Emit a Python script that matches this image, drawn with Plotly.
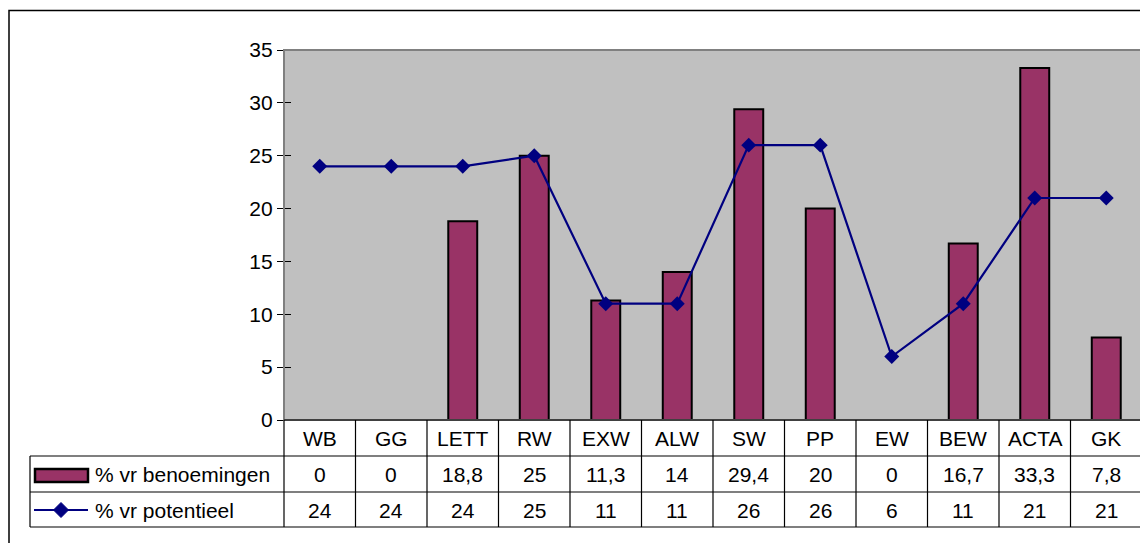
import plotly.graph_objects as go

categories = ["WB", "GG", "LETT", "RW", "EXW", "ALW", "SW", "PP", "EW", "BEW", "ACTA", "GK"]
benoemingen = [0, 0, 18.8, 25, 11.3, 14, 29.4, 20, 0, 16.7, 33.3, 7.8]
potentieel = [24, 24, 24, 25, 11, 11, 26, 26, 6, 11, 21, 21]
series_names = ["% vr benoemingen", "% vr potentieel"]
y_ticks = [0, 5, 10, 15, 20, 25, 30, 35]

BAR_COLOR = "#993366"
LINE_COLOR = "#000080"
FONT = "Liberation Sans, Arial, sans-serif"
FS = 21

OFF = 8  # page body margin
W, H = 1148 - OFF, 543 - OFF
PL, PR, PT, PB = 284, 1142, 50, 420  # plot area in page pixels


def px_x(x):
    return (x - PL) / (PR - PL)


def px_y(y):
    return (PB - y) / (PB - PT)


def fmt(v):
    return f"{v:g}".replace(".", ",")


fig = go.Figure()
fig.add_trace(go.Bar(
    x=categories, y=benoemingen, name=series_names[0],
    marker=dict(color=BAR_COLOR, line=dict(color="black", width=2)),
))
fig.add_trace(go.Scatter(
    x=categories, y=potentieel, name=series_names[1], mode="lines+markers",
    line=dict(color=LINE_COLOR, width=2.2),
    marker=dict(symbol="diamond", size=11.5, color=LINE_COLOR),
))
# invisible copy on y2 so the overlay axis (inner half of cross ticks) is drawn
fig.add_trace(go.Scatter(
    x=categories, y=potentieel, yaxis="y2", mode="lines", opacity=0,
    hoverinfo="skip", showlegend=False,
))

shapes = []
annotations = []
n = len(categories)
row_lines = [420, 456, 492, 527]
row_centers = [438, 474, 510]

# outer chart border
shapes.append(dict(type="rect", xref="paper", yref="paper",
                   x0=px_x(9), x1=px_x(1160), y0=px_y(10.5), y1=px_y(560),
                   line=dict(color="black", width=1.5)))
# plot area border (grey)
shapes.append(dict(type="rect", xref="paper", yref="paper",
                   x0=0, x1=1, y0=0, y1=1, layer="above",
                   line=dict(color="#808080", width=2)))

# data table grid
for i, y in enumerate(row_lines):
    x_start = PL if i == 0 else 30
    shapes.append(dict(type="line", xref="paper", yref="paper",
                       x0=px_x(x_start), x1=1, y0=px_y(y), y1=px_y(y),
                       line=dict(color="black", width=1.2)))
for k in range(n + 1):
    shapes.append(dict(type="line", xref="paper", yref="paper",
                       x0=k / n, x1=k / n, y0=px_y(420), y1=px_y(527),
                       line=dict(color="black", width=1.2)))
shapes.append(dict(type="line", xref="paper", yref="paper",
                   x0=px_x(30), x1=px_x(30), y0=px_y(456), y1=px_y(527),
                   line=dict(color="black", width=1.2)))

rows = [categories, [fmt(v) for v in benoemingen], [fmt(v) for v in potentieel]]
for r, row in enumerate(rows):
    for k, txt in enumerate(row):
        annotations.append(dict(x=(k + 0.5) / n, y=px_y(row_centers[r]),
                                xref="paper", yref="paper", text=txt, showarrow=False,
                                xanchor="center", yanchor="middle",
                                font=dict(size=FS, color="black", family=FONT)))

# legend keys inside the table
shapes.append(dict(type="rect", xref="paper", yref="paper",
                   x0=px_x(35), x1=px_x(88), y0=px_y(469), y1=px_y(482),
                   fillcolor=BAR_COLOR, line=dict(color="black", width=2.5)))
shapes.append(dict(type="line", xref="paper", yref="paper",
                   x0=px_x(34), x1=px_x(88), y0=px_y(510), y1=px_y(510),
                   line=dict(color=LINE_COLOR, width=2.2)))
cx, cy, d = 61, 510, 7.5
shapes.append(dict(type="path", xref="paper", yref="paper",
                   path=(f"M {px_x(cx - d)} {px_y(cy)} L {px_x(cx)} {px_y(cy - d)} "
                         f"L {px_x(cx + d)} {px_y(cy)} L {px_x(cx)} {px_y(cy + d)} Z"),
                   fillcolor=LINE_COLOR, line=dict(color=LINE_COLOR, width=1)))
for r, name in enumerate(series_names):
    annotations.append(dict(x=px_x(93), y=px_y(row_centers[r + 1]), xref="paper", yref="paper",
                            text=name, showarrow=False, xanchor="left", yanchor="middle",
                            font=dict(size=FS, color="black", family=FONT)))

fig.update_layout(
    width=W, height=H,
    margin=dict(l=PL - OFF, r=W + OFF - PR, t=PT - OFF, b=H + OFF - PB, pad=0),
    paper_bgcolor="white", plot_bgcolor="#C0C0C0",
    showlegend=False, bargap=0.595,
    font=dict(family=FONT, size=FS, color="black"),
    shapes=shapes, annotations=annotations,
    yaxis2=dict(overlaying="y", side="left", range=[0, 35], tickvals=y_ticks,
                showticklabels=False, ticks="inside", ticklen=7, tickcolor="black",
                tickwidth=1.2, showgrid=False, zeroline=False, showline=False),
)
fig.update_xaxes(showticklabels=False, ticks="", showgrid=False, zeroline=False,
                 showline=False, range=[-0.5, n - 0.5])
fig.update_layout(yaxis=dict(range=[0, 35], tickvals=y_ticks, showgrid=False, zeroline=False,
                             showline=True, linecolor="black", linewidth=1.2,
                             ticks="outside", ticklen=6, tickcolor="black", tickwidth=1.2,
                             tickfont=dict(size=FS, family=FONT)))

fig.write_html("out.html")
